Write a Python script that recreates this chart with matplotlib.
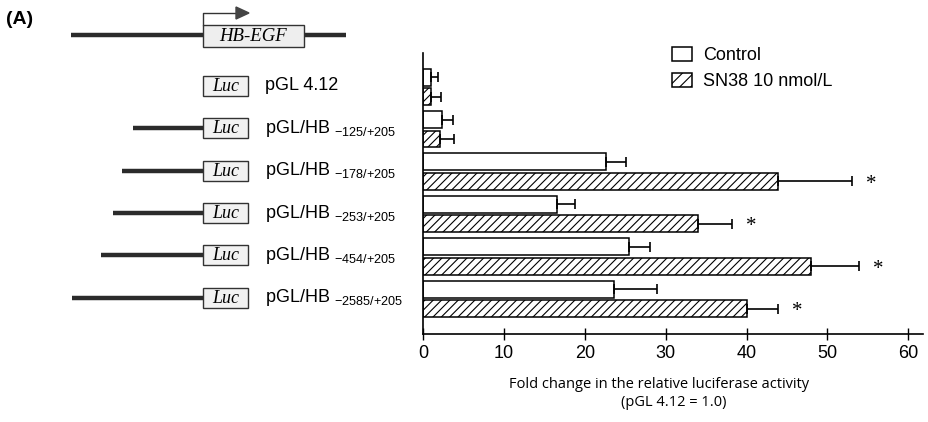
import numpy as np
import matplotlib
matplotlib.use('Agg')
import matplotlib.pyplot as plt
from matplotlib.patches import Rectangle, Polygon, Patch

plt.rcParams['font.family'] = ['Liberation Sans', 'DejaVu Sans']
plt.rcParams['mathtext.fontset'] = 'custom'
plt.rcParams['mathtext.rm'] = 'Liberation Sans'
plt.rcParams['hatch.linewidth'] = 0.8

# constructs, top to bottom
constructs = ['pGL 4.12', '-125/+205', '-178/+205', '-253/+205', '-454/+205', '-2585/+205']
# promoter length drawn to the left of Luc (0 = none)
promoter_len = [0, 125, 178, 253, 454, 2585]

control = [1.0, 2.3, 22.6, 16.5, 25.5, 23.6]
control_err = [0.85, 1.4, 2.5, 2.3, 2.6, 5.3]
sn38 = [1.0, 2.0, 43.9, 34.0, 47.9, 40.1]
sn38_err = [1.2, 1.8, 9.1, 4.2, 6.0, 3.8]
significant = [False, False, True, True, True, True]

xticks = [0, 10, 20, 30, 40, 50, 60]

fig = plt.figure(figsize=(9.29, 4.22), dpi=100)
ax = fig.add_axes([0.4557, 0.2085, 0.5377, 0.666])

y = np.arange(len(constructs))
off = 0.23
h = 0.40
ax.barh(y - off, control, height=h, color='white', edgecolor='black', linewidth=1.1)
ax.barh(y + off, sn38, height=h, color='white', edgecolor='black', linewidth=1.1, hatch='////')
ax.errorbar(control, y - off, xerr=[np.zeros(len(y)), control_err], fmt='none',
            ecolor='black', elinewidth=1.2, capsize=3.3, capthick=1.2)
ax.errorbar(sn38, y + off, xerr=[np.zeros(len(y)), sn38_err], fmt='none',
            ecolor='black', elinewidth=1.2, capsize=3.3, capthick=1.2)
for i in range(len(y)):
    if significant[i]:
        ax.text(sn38[i] + sn38_err[i] + 2.4, y[i] + off + 0.07, '*', ha='center', va='center',
                fontsize=15, family='Liberation Serif')

ax.set_xlim(0, 61.8)
ax.set_ylim(5.83, -0.80)
ax.set_xticks(xticks)
ax.set_xticklabels([str(t) for t in xticks], fontsize=13)
ax.set_yticks([])
ax.tick_params(axis='x', direction='inout', length=8, width=1, pad=4)
for s in ['top', 'right']:
    ax.spines[s].set_visible(False)
ax.spines['left'].set_linewidth(1.2)
ax.spines['bottom'].set_linewidth(1.2)

handles = [Patch(facecolor='white', edgecolor='black', linewidth=1.1),
           Patch(facecolor='white', edgecolor='black', linewidth=1.1, hatch='///')]
fig.legend(handles, ['Control', 'SN38 10 nmol/L'], loc='upper left',
           bbox_to_anchor=(672 / 929, 1 - 47 / 422), frameon=False, fontsize=13,
           handlelength=1.1, handleheight=0.8, handletextpad=0.6, labelspacing=0.5,
           borderpad=0, borderaxespad=0)

fig.text(659 / 929, 1 - 385 / 422, 'Fold change in the relative luciferase activity',
         ha='center', va='center', fontsize=10.5, family='Open Sans')
fig.text(674 / 929, 1 - 403 / 422, '(pGL 4.12 = 1.0)',
         ha='center', va='center', fontsize=10.5, family='Open Sans')

# schematic, in pixel coordinates
sk = fig.add_axes([0, 0, 1, 1], zorder=-1)
sk.set_xlim(0, 929)
sk.set_ylim(422, 0)
sk.axis('off')
fig.canvas.draw()

fig.text(6 / 929, 1 - 20 / 422, '(A)', fontsize=14, fontweight='bold', va='center')

# gene
sk.plot([71, 346], [35, 35], color='#2b2b2b', lw=3.2, solid_capstyle='butt', zorder=1)
sk.add_patch(Rectangle((203, 25), 101, 22, facecolor='#eeeeee', edgecolor='#333333', lw=1, zorder=2))
sk.text(253, 36.5, 'HB-EGF', ha='center', va='center', fontsize=13.5,
        family='Liberation Serif', style='italic', zorder=3)
sk.plot([203.5, 203.5, 238], [25, 13, 13], color='#333333', lw=1, zorder=2)
sk.add_patch(Polygon([[236, 7], [236, 19], [249, 13]], closed=True, facecolor='#444444',
                     edgecolor='#444444', zorder=2))

line_start = {125: 133, 178: 122, 253: 113, 454: 101, 2585: 72}
for i, name in enumerate(constructs):
    disp = ax.transData.transform((0, y[i]))
    yc = 422 - disp[1] - 1
    if promoter_len[i] > 0:
        sk.plot([line_start[promoter_len[i]], 203], [yc, yc], color='#2b2b2b', lw=3.2,
                solid_capstyle='butt', zorder=1)
    sk.add_patch(Rectangle((203, yc - 10), 45, 20, facecolor='#f2f2f2', edgecolor='#333333',
                           lw=1, zorder=2))
    sk.text(225.5, yc + 0.5, 'Luc', ha='center', va='center', fontsize=13,
            family='Liberation Serif', style='italic', zorder=3)
    if i == 0:
        label = name
    else:
        label = r'pGL/HB $_{\mathregular{%s}}$' % name.replace('+', '{+}')
    sk.text(265, yc, label, ha='left', va='center', fontsize=13)

fig.savefig('out.png', dpi=100)
